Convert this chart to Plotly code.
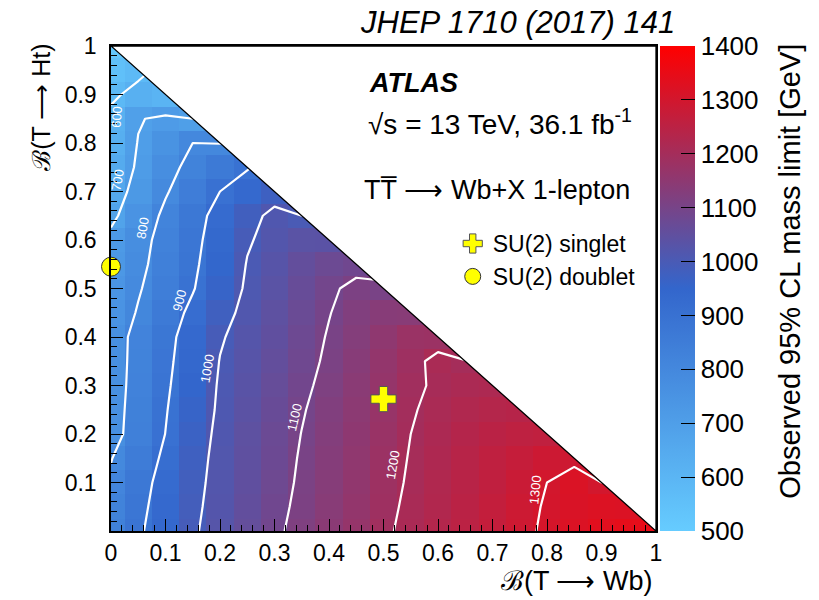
import plotly.graph_objects as go

# grid of branching ratios (bin centres)
bwb = [round(0.05 * i, 2) for i in range(21)]
bht = [round(0.05 * j, 2) for j in range(21)]

# observed 95% CL mass limits [GeV]; one row per B(T->Ht) value, x from 0 up to the diagonal
r000 = [833, 889, 941, 992, 1027, 1058, 1090, 1117, 1142, 1167, 1192, 1213, 1232, 1251, 1270, 1289, 1307, 1320, 1333, 1343, 1352]
r005 = [823, 880, 935, 987, 1023, 1054, 1085, 1112, 1137, 1162, 1187, 1210, 1229, 1248, 1267, 1287, 1304, 1317, 1322, 1320]
r010 = [812, 871, 927, 982, 1020, 1050, 1080, 1108, 1133, 1158, 1183, 1206, 1225, 1244, 1262, 1281, 1300, 1318, 1300]
r015 = [797, 854, 915, 976, 1018, 1047, 1076, 1105, 1130, 1155, 1180, 1203, 1222, 1241, 1258, 1272, 1288, 1290]
r020 = [771, 836, 901, 967, 1015, 1044, 1073, 1101, 1126, 1151, 1176, 1200, 1218, 1235, 1248, 1256, 1260]
r025 = [768, 832, 895, 959, 1010, 1039, 1068, 1096, 1121, 1146, 1171, 1196, 1212, 1225, 1234, 1239]
r030 = [766, 827, 888, 951, 1007, 1034, 1062, 1089, 1115, 1141, 1167, 1192, 1206, 1214, 1219]
r035 = [765, 824, 882, 943, 1002, 1029, 1056, 1082, 1109, 1135, 1161, 1187, 1212, 1201]
r040 = [766, 821, 877, 935, 994, 1024, 1050, 1077, 1104, 1128, 1152, 1177, 1180]
r045 = [750, 806, 861, 918, 978, 1017, 1044, 1071, 1098, 1123, 1135, 1137]
r050 = [741, 793, 844, 895, 958, 1009, 1036, 1065, 1092, 1112, 1105]
r055 = [728, 781, 834, 886, 946, 1003, 1030, 1055, 1075, 1085]
r060 = [719, 773, 827, 879, 937, 994, 1020, 1035, 1037]
r065 = [682, 751, 816, 871, 926, 980, 1015, 1000]
r070 = [660, 727, 793, 847, 900, 935, 975]
r075 = [646, 710, 774, 823, 862, 895]
r080 = [630, 703, 752, 800, 798]
r085 = [620, 695, 715, 700]
r090 = [585, 625, 605]
r095 = [555, 580]
r100 = [520]
rows = [r000, r005, r010, r015, r020, r025, r030, r035, r040, r045, r050,
        r055, r060, r065, r070, r075, r080, r085, r090, r095, r100]

contour_levels = [600, 700, 800, 900, 1000, 1100, 1200, 1300]
# where each contour label sits (B(Wb), B(Ht)) and its rotation
label_x = [0.011, 0.013, 0.059, 0.125, 0.176, 0.336, 0.516, 0.778]
label_y = [0.854, 0.724, 0.625, 0.476, 0.336, 0.235, 0.136, 0.084]
label_angle = [-86, -80, -80, -76, -80, -77, -80, -84]

cbar_ticks = [500, 600, 700, 800, 900, 1000, 1100, 1200, 1300, 1400]
x_ticks = [0, 0.1, 0.2, 0.3, 0.4, 0.5, 0.6, 0.7, 0.8, 0.9, 1]
x_ticktext = ["0", "0.1", "0.2", "0.3", "0.4", "0.5", "0.6", "0.7", "0.8", "0.9", "1"]
y_ticks = [0.1, 0.2, 0.3, 0.4, 0.5, 0.6, 0.7, 0.8, 0.9, 1]
y_ticktext = ["0.1", "0.2", "0.3", "0.4", "0.5", "0.6", "0.7", "0.8", "0.9", "1"]

singlet_x, singlet_y = [0.5], [0.272]
doublet_x, doublet_y = [0.0], [0.545]

z = [row + [None] * (len(bwb) - len(row)) for row in rows]

FONT = "Liberation Sans, Arial, Helvetica, sans-serif"
ARROW = "\u27F6"
cscale = [[0.0, "rgb(102,204,255)"], [0.5, "rgb(51,102,204)"], [1.0, "rgb(255,0,0)"]]

fig = go.Figure()
fig.add_trace(go.Heatmap(
    x=bwb, y=bht, z=z, zmin=500, zmax=1400, colorscale=cscale, zsmooth=False,
    hoverongaps=False, showlegend=False,
    colorbar=dict(x=1.0073, xanchor="left", xpad=0, y=0.5, yanchor="middle", len=1,
                  lenmode="fraction", ypad=0, thickness=35, outlinewidth=0,
                  ticks="inside", ticklen=14, tickcolor="black", tickwidth=1,
                  tickvals=cbar_ticks, tickfont=dict(size=26, family=FONT, color="black")),
))
fig.add_trace(go.Contour(
    x=bwb, y=bht, z=z, showscale=False, hoverinfo="skip", showlegend=False,
    contours=dict(start=contour_levels[0], end=contour_levels[-1],
                  size=contour_levels[1] - contour_levels[0],
                  coloring="none", showlabels=False),
    line=dict(color="white", width=2.2, smoothing=0),
))
# white mask above the physical boundary B(Wb)+B(Ht)=1
fig.add_trace(go.Scatter(
    x=[x_ticks[0], x_ticks[-1], x_ticks[-1], x_ticks[0]],
    y=[y_ticks[-1], 0, y_ticks[-1], y_ticks[-1]],
    mode="lines", fill="toself", fillcolor="white",
    line=dict(color="black", width=1.3), hoverinfo="skip", showlegend=False,
))
fig.add_trace(go.Scatter(
    x=singlet_x, y=singlet_y, mode="markers", name="SU(2) singlet", cliponaxis=False,
    marker=dict(symbol="cross", size=21, color="#ffff00", line=dict(color="#555555", width=1)),
))
fig.add_trace(go.Scatter(
    x=doublet_x, y=doublet_y, mode="markers", name="SU(2) doublet", cliponaxis=False,
    marker=dict(symbol="circle", size=19, color="#ffff00", line=dict(color="#333333", width=1)),
))

axis_common = dict(showline=True, mirror=True, linecolor="black", linewidth=1.5,
                   ticks="inside", ticklen=12, tickcolor="black", tickwidth=1,
                   showgrid=False, zeroline=False,
                   tickfont=dict(size=23, family=FONT, color="black"),
                   minor=dict(ticks="inside", ticklen=6, dtick=0.02, tickcolor="black", tickwidth=1))
fig.update_xaxes(range=[0, 1], tickvals=x_ticks, ticktext=x_ticktext, ticklabelstandoff=1,
                 **axis_common)
fig.update_yaxes(range=[0, 1], tickvals=y_ticks, ticktext=y_ticktext, ticklabelstandoff=8,
                 **axis_common)

ann = [
    dict(text="<i>JHEP 1710 (2017) 141</i>", x=1.039, y=1.049, xanchor="right", yanchor="middle",
         font=dict(size=31)),
    dict(text="<b><i>ATLAS</i></b>", x=0.470, y=0.924, xanchor="left", yanchor="middle",
         font=dict(size=27)),
    dict(text="√s = 13 TeV, 36.1 fb<sup>-1</sup>", x=0.468, y=0.843, xanchor="left",
         yanchor="middle", font=dict(size=28)),
    dict(text="TT\u0305 " + ARROW + " Wb+X 1-lepton", x=0.461, y=0.703, xanchor="left",
         yanchor="middle", font=dict(size=27)),
    dict(text="\u212C(T " + ARROW + " Wb)", x=0.998, y=-0.104, xanchor="right", yanchor="middle",
         font=dict(size=27)),
    dict(text="\u212C(T " + ARROW + " Ht)", x=-0.130, y=1.008, xanchor="center", yanchor="top",
         textangle=-90, font=dict(size=25)),
    dict(text="Observed 95% CL mass limit [GeV]", x=1.246, y=1.008, xanchor="center",
         yanchor="top", textangle=-90, font=dict(size=29)),
]
for a in ann:
    a.update(xref="paper", yref="paper", showarrow=False)
    a["font"].update(family=FONT, color="black")
for lev, lx, ly, la in zip(contour_levels, label_x, label_y, label_angle):
    ann.append(dict(text=str(lev), x=lx, y=ly, xref="x", yref="y", showarrow=False,
                    textangle=la, font=dict(size=13, family=FONT, color="white")))

fig.update_layout(
    width=819, height=600, autosize=False,
    margin=dict(l=111, r=163, t=46, b=69),
    plot_bgcolor="white", paper_bgcolor="white",
    font=dict(family=FONT, color="black"),
    annotations=ann,
    legend=dict(x=0.627, y=0.637, xanchor="left", yanchor="top", bgcolor="rgba(0,0,0,0)",
                font=dict(size=23, family=FONT, color="black"), tracegroupgap=0),
    showlegend=True,
)
fig.write_html("out.html", config={"displayModeBar": False},
               post_script="document.body.style.margin='0px';")
